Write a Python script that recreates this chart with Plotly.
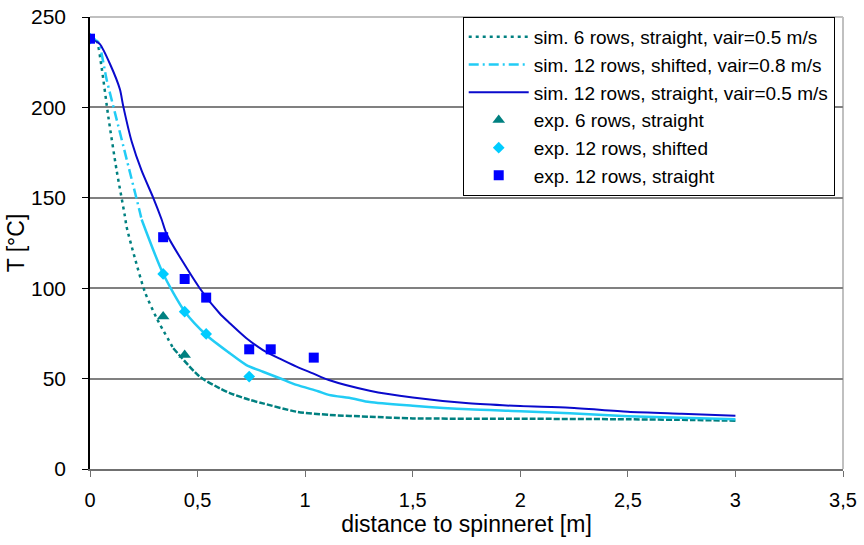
import plotly.graph_objects as go

# ---- simulated curves ----
sim6_x = [0, 0.02, 0.031, 0.054, 0.085, 0.124, 0.162, 0.17, 0.209, 0.255, 0.31, 0.387,
          0.511, 0.604, 0.65, 0.743, 0.804, 0.96, 1.114, 1.3, 1.5, 2.0, 2.5, 2.8, 3.0]
sim6_y = [238, 237.5, 237, 222, 195, 165, 140, 134, 116.5, 98, 83.4, 66.8,
          51, 44.6, 42, 38.2, 36.3, 31.7, 29.9, 28.9, 28.0, 27.8, 27.5, 27.1, 26.7]

sim12sh_x = [0, 0.02, 0.039, 0.078, 0.116, 0.171, 0.232, 0.24, 0.34, 0.441, 0.542, 0.65,
             0.727, 0.804, 0.882, 0.96, 1.06, 1.11, 1.22, 1.3, 1.5, 1.76, 2.0, 2.23, 2.5, 2.75, 3.0]
sim12sh_y = [238, 237.5, 236, 215, 197, 171, 142, 138, 108, 87, 74, 64,
             57.5, 53.8, 50.2, 46.5, 43, 41, 39, 37, 35, 33, 32, 30.8, 29.2, 28.3, 27.5]

sim12st_x = [0, 0.02, 0.046, 0.093, 0.139, 0.154, 0.194, 0.24, 0.294, 0.333, 0.356, 0.51,
             0.603, 0.65, 0.727, 0.804, 0.882, 0.96, 1.036, 1.11, 1.3, 1.5, 1.76, 2.0,
             2.23, 2.5, 2.75, 3.0]
sim12st_y = [238, 237, 235, 224, 210, 201, 181, 165, 150, 138, 130, 100,
             86, 80.6, 72.3, 65.8, 61, 56.6, 52.9, 49.2, 43.3, 39.5, 36.3, 34.8,
             33.9, 31.7, 30.6, 29.5]

# ---- experimental points ----
exp6_x = [0, 0.34, 0.44]
exp6_y = [238, 84.3, 63.1]
exp12sh_x = [0, 0.34, 0.44, 0.54, 0.74]
exp12sh_y = [238, 107.9, 87.0, 74.7, 51.1]
exp12st_x = [0, 0.34, 0.44, 0.54, 0.74, 0.84, 1.04]
exp12st_y = [238, 128.2, 105.1, 94.8, 66.2, 66.2, 61.6]

x_tickvals = [0, 0.5, 1, 1.5, 2, 2.5, 3, 3.5]
x_ticktext = ["0", "0,5", "1", "1,5", "2", "2,5", "3", "3,5"]
y_tickvals = [0, 50, 100, 150, 200, 250]

TEAL = "#008080"
CYAN = "#22CCF5"
CYAN_M = "#00CCFF"
BLUE_L = "#0A0ACC"
BLUE_M = "#0000FF"

SPL = dict(shape="spline", smoothing=0.7)

fig = go.Figure()

# teal dotted (legend trace, upper part)
n6 = 11
fig.add_trace(go.Scatter(x=sim6_x[:n6 + 1], y=sim6_y[:n6 + 1], mode="lines",
                         name="sim. 6 rows, straight, vair=0.5 m/s",
                         line=dict(color=TEAL, width=2.5, dash="3px,4px", **SPL)))
fig.add_trace(go.Scatter(x=sim6_x[n6:], y=sim6_y[n6:], mode="lines", showlegend=False,
                         hoverinfo="skip",
                         line=dict(color=TEAL, width=2.5, dash="6px,2px", **SPL)))

# cyan dash-dot upper, solid lower
nc = 7
fig.add_trace(go.Scatter(x=sim12sh_x[:nc + 1], y=sim12sh_y[:nc + 1], mode="lines",
                         name="sim. 12 rows, shifted, vair=0.8 m/s",
                         line=dict(color=CYAN, width=2.5, dash="10px,4px,2px,4px", **SPL)))
fig.add_trace(go.Scatter(x=sim12sh_x[nc:], y=sim12sh_y[nc:], mode="lines", showlegend=False,
                         hoverinfo="skip",
                         line=dict(color=CYAN, width=2.5, **SPL)))

fig.add_trace(go.Scatter(x=sim12st_x, y=sim12st_y, mode="lines",
                         name="sim. 12 rows, straight, vair=0.5 m/s",
                         line=dict(color=BLUE_L, width=2, **SPL)))

fig.add_trace(go.Scatter(x=exp6_x, y=exp6_y, mode="markers",
                         name="exp. 6 rows, straight",
                         marker=dict(symbol="triangle-up", size=11, color=TEAL)))
fig.add_trace(go.Scatter(x=exp12sh_x, y=exp12sh_y, mode="markers",
                         name="exp. 12 rows, shifted",
                         marker=dict(symbol="diamond", size=9, color=CYAN_M)))
fig.add_trace(go.Scatter(x=exp12st_x, y=exp12st_y, mode="markers",
                         name="exp. 12 rows, straight",
                         marker=dict(symbol="square", size=10, color=BLUE_M)))

FONT = "Liberation Sans, Arial, sans-serif"

fig.update_layout(
    width=864, height=545,
    margin=dict(l=90, r=21, t=17, b=76),
    paper_bgcolor="white", plot_bgcolor="white",
    font=dict(family=FONT, size=20, color="black"),
    showlegend=True,
    legend=dict(x=0.989, y=1.0, xanchor="right", yanchor="top",
                bgcolor="white", bordercolor="black", borderwidth=1,
                font=dict(family=FONT, size=19, color="black"),
                tracegroupgap=0, itemwidth=60),
    xaxis=dict(range=[0, 3.5], tickvals=x_tickvals, ticktext=x_ticktext,
               showgrid=False, zeroline=False, automargin=False,
               showline=True, linecolor="#707070", linewidth=2,
               ticks="outside", ticklen=6, tickcolor="#707070", tickwidth=1,
               tickfont=dict(size=20), ticklabelstandoff=6, ticklabeloverflow="allow",
               title=dict(text="distance to spinneret [m]", font=dict(size=23), standoff=2)),
    yaxis=dict(range=[0, 250], tickvals=y_tickvals,
               showgrid=True, gridcolor="#808080", gridwidth=2,
               zeroline=False, automargin=False,
               showline=True, linecolor="black", linewidth=1.5,
               ticks="outside", ticklen=6, tickcolor="black", tickwidth=1,
               tickfont=dict(size=21), ticklabelstandoff=12, ticklabeloverflow="allow",
               title=dict(text="T [°C]", font=dict(size=23), standoff=0)),
    shapes=[
        dict(type="line", xref="paper", yref="paper", x0=0, x1=1, y0=1, y1=1,
             line=dict(color="#C0C0C0", width=2), layer="between"),
        dict(type="line", xref="paper", yref="paper", x0=1, x1=1, y0=0, y1=1,
             line=dict(color="#C0C0C0", width=2), layer="between"),
    ],
)

# remove the browser's default 8px page margin so the figure fills the window
fig.write_html("out.html", config={"displayModeBar": False},
               post_script="document.body.style.margin='0';")
